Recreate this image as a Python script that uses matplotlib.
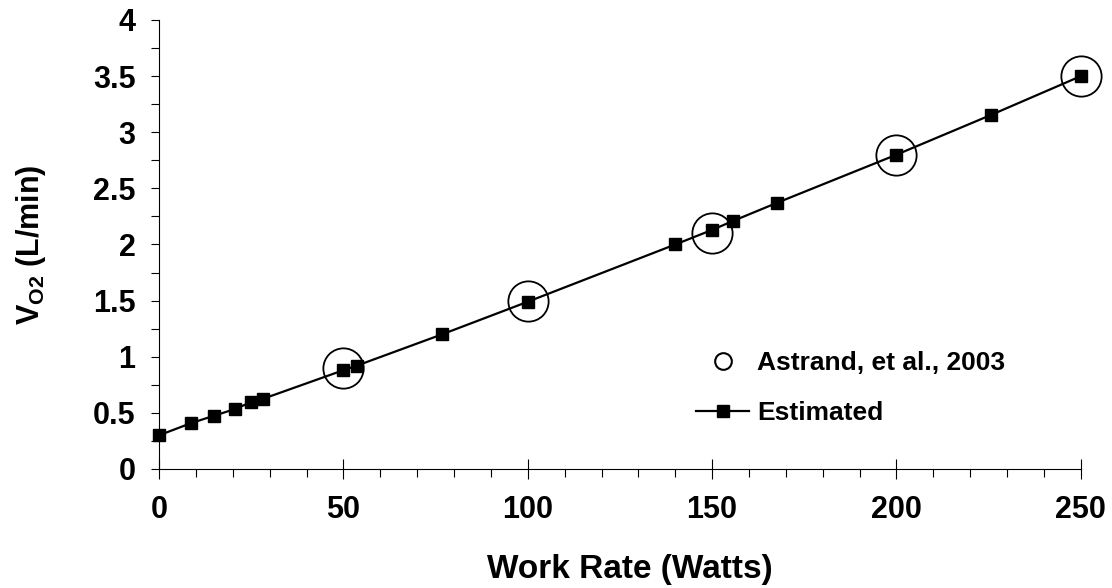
import numpy as np
import matplotlib.pyplot as plt
from matplotlib.ticker import MultipleLocator

plt.rcParams['font.family'] = ['Liberation Sans', 'DejaVu Sans']
plt.rcParams['font.weight'] = 'bold'
plt.rcParams['mathtext.fontset'] = 'custom'
plt.rcParams['mathtext.rm'] = 'Liberation Sans:bold'
plt.rcParams['mathtext.default'] = 'rm'

# estimated curve
work_est = [0, 8.8, 15, 20.7, 24.9, 28.2, 50, 53.6, 76.8, 100, 140, 150,
            155.7, 167.5, 200, 225.7, 250]
vo2_est = [0.30, 0.41, 0.475, 0.535, 0.595, 0.625, 0.88, 0.92, 1.20, 1.49,
           2.00, 2.13, 2.21, 2.37, 2.80, 3.155, 3.50]

# Astrand et al. 2003
work_ast = [50, 100, 150, 200, 250]
vo2_ast = [0.9, 1.5, 2.1, 2.8, 3.5]

fig = plt.figure(figsize=(11.12, 5.88), dpi=100)
ax = fig.add_axes([0.143, 0.2024, 0.829, 0.7636])

ax.plot(work_ast, vo2_ast, 'o', ms=29, mfc='none', mec='black', mew=1.3,
        label='Astrand, et al., 2003', clip_on=False, zorder=3)
ax.plot(work_est, vo2_est, '-s', color='black', lw=1.6, ms=8,
        label='Estimated', clip_on=False, zorder=4)

ax.set_xlim(0, 250)
ax.set_ylim(0, 4)
ax.spines['top'].set_visible(False)
ax.spines['right'].set_visible(False)
ax.spines['left'].set_linewidth(0.8)
ax.spines['bottom'].set_linewidth(0.8)

ax.xaxis.set_major_locator(MultipleLocator(50))
ax.xaxis.set_minor_locator(MultipleLocator(10))
ax.yaxis.set_major_locator(MultipleLocator(0.5))
ax.yaxis.set_minor_locator(MultipleLocator(0.25))
ax.tick_params(axis='x', which='major', direction='inout', length=14, width=0.8,
               pad=12, labelsize=22)
ax.tick_params(axis='x', which='minor', direction='out', length=6, width=0.8)
ax.tick_params(axis='y', which='major', direction='out', length=6, width=0.8,
               pad=11, labelsize=22)
ax.tick_params(axis='y', which='minor', direction='out', length=6, width=0.8)
ax.set_yticks([0, 0.5, 1, 1.5, 2, 2.5, 3, 3.5, 4])
ax.set_yticklabels(['0', '0.5', '1', '1.5', '2', '2.5', '3', '3.5', '4'])

ax.set_xlabel('Work Rate (Watts)', fontsize=24, fontweight='bold')
ax.xaxis.set_label_coords(0.511, -0.19)
ax.set_ylabel('V$_{O2}$ (L/min)', fontsize=22, fontweight='bold', labelpad=32)

leg = ax.legend(loc='center left', bbox_to_anchor=(0.557, 0.18), frameon=False,
                fontsize=19, handlelength=2.0, handletextpad=0.3,
                labelspacing=1.0)
leg.legend_handles[0].set_markersize(12)
leg.legend_handles[0].set_markeredgewidth(1.5)
leg.legend_handles[1].set_markersize(8)

fig.savefig('out.png', dpi=100)
